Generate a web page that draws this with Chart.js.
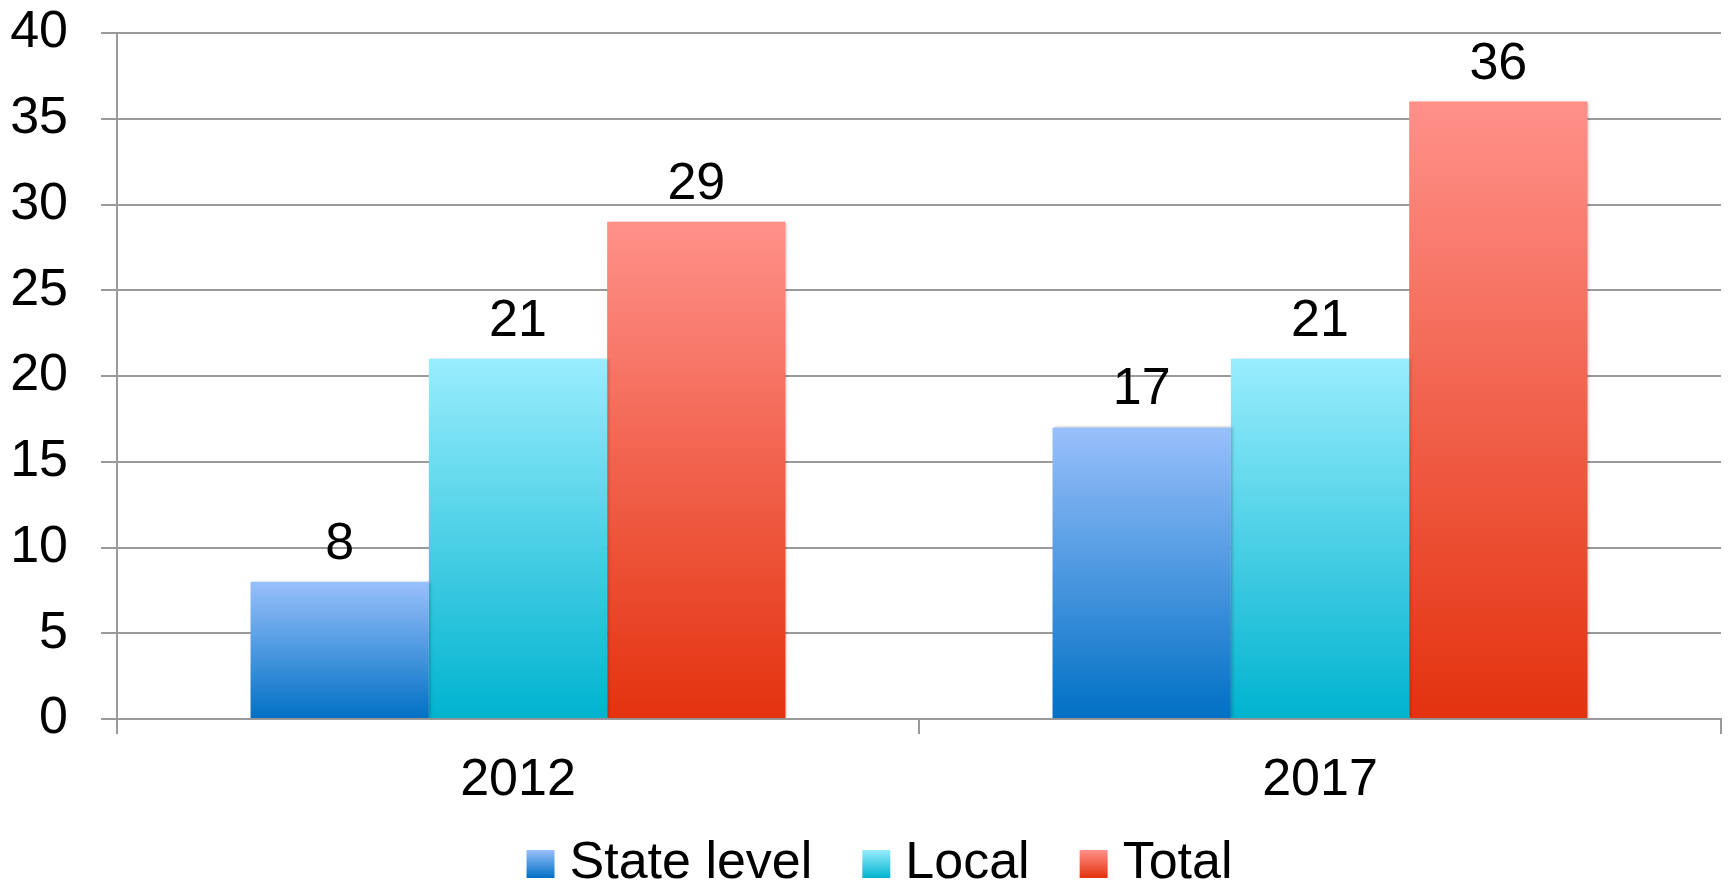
<!DOCTYPE html>
<html lang="en">
<head>
<meta charset="UTF-8">
<title>State level / Local / Total</title>
<script src="https://cdn.jsdelivr.net/npm/chart.js"></script>
<style>
  body { margin: 0; background: #fff; }
  #wrap { width: 1729px; height: 885px; }
</style>
</head>
<body>
<div id="wrap"><canvas id="chart"></canvas></div>
<script>
const years = ['2012', '2017'];
const seriesNames = ['State level', 'Local', 'Total'];
const stateLevel = [8, 17];
const local = [21, 21];
const total = [29, 36];
const yTicks = { min: 0, max: 40, step: 5 };

// top / bottom colours of each bar gradient
const seriesColors = [
    ['#99c0fb', '#0070c4'],
    ['#99edfd', '#00b3cf'],
    ['#ff918a', '#e3320e']
];

const FONT = '"Liberation Sans", Arial, sans-serif';
const gridColor = '#9a9a9a';

function barGradient(colors) {
    return function (context) {
        const chart = context.chart;
        if (!chart.chartArea || context.type !== 'data') return colors[1];
        const y = chart.scales.y;
        const g = chart.ctx.createLinearGradient(0, y.getPixelForValue(context.parsed.y), 0, y.getPixelForValue(0));
        g.addColorStop(0, colors[0]);
        g.addColorStop(1, colors[1]);
        return g;
    };
}

// soft shadow behind bars + value labels on top
const barExtras = {
    id: 'barExtras',
    beforeDatasetsDraw(chart) {
        const ctx = chart.ctx;
        ctx.save();
        ctx.shadowColor = 'rgba(0,0,0,0.22)';
        ctx.shadowBlur = 3;
        ctx.shadowOffsetX = 2;
    },
    afterDatasetsDraw(chart) {
        const ctx = chart.ctx;
        ctx.restore();
        ctx.save();
        ctx.font = '52px ' + FONT;
        ctx.fillStyle = '#000';
        ctx.textAlign = 'center';
        ctx.textBaseline = 'alphabetic';
        chart.data.datasets.forEach((ds, i) => {
            chart.getDatasetMeta(i).data.forEach((bar, j) => {
                ctx.fillText(ds.data[j], bar.x, bar.y - 23);
            });
        });
        ctx.restore();
    }
};

// legend under the axis labels
const bottomLegend = {
    id: 'bottomLegend',
    afterDraw(chart) {
        const ctx = chart.ctx;
        const box = 28, gap = 15, itemGap = 50;
        ctx.save();
        ctx.font = '52px ' + FONT;
        const items = chart.data.datasets.map((ds, i) => ({
            text: ds.label,
            colors: seriesColors[i],
            w: ctx.measureText(ds.label).width
        }));
        const totalW = items.reduce((s, it) => s + box + gap + it.w, 0) + itemGap * (items.length - 1);
        let x = chart.width / 2 + 15 - totalW / 2;
        const base = chart.height - 7;
        items.forEach(it => {
            const g = ctx.createLinearGradient(0, base - box, 0, base);
            g.addColorStop(0, it.colors[0]);
            g.addColorStop(1, it.colors[1]);
            ctx.fillStyle = g;
            ctx.fillRect(x, base - box, box, box);
            ctx.fillStyle = '#000';
            ctx.textAlign = 'left';
            ctx.textBaseline = 'alphabetic';
            ctx.fillText(it.text, x + box + gap, base);
            x += box + gap + it.w + itemGap;
        });
        ctx.restore();
    }
};

const seriesData = [stateLevel, local, total];

new Chart(document.getElementById('chart'), {
    type: 'bar',
    data: {
        labels: years,
        datasets: seriesNames.map((name, i) => ({
            label: name,
            data: seriesData[i],
            backgroundColor: barGradient(seriesColors[i]),
            borderWidth: 0,
            barPercentage: 1,
            categoryPercentage: 0.667
        }))
    },
    options: {
        responsive: true,
        maintainAspectRatio: false,
        animation: false,
        layout: { padding: { top: 33, right: 8, bottom: 76, left: 0 } },
        plugins: {
            legend: { display: false },
            tooltip: { enabled: false }
        },
        scales: {
            x: {
                offset: true,
                grid: { offset: true, drawOnChartArea: false, drawTicks: true, tickLength: 15, color: gridColor, lineWidth: 2 },
                border: { color: gridColor, width: 2 },
                ticks: { font: { family: FONT, size: 52 }, color: '#000', padding: 15 },
                afterFit: s => { s.height = 90; }
            },
            y: {
                min: yTicks.min,
                max: yTicks.max,
                grid: { color: gridColor, lineWidth: 2, tickLength: 16 },
                border: { color: gridColor, width: 2 },
                ticks: { stepSize: yTicks.step, font: { family: FONT, size: 52 }, color: '#000', padding: 33 },
                afterFit: s => { s.width = 117; s.paddingTop = 0; s.paddingBottom = 0; }
            }
        }
    },
    plugins: [barExtras, bottomLegend]
});
</script>
</body>
</html>
